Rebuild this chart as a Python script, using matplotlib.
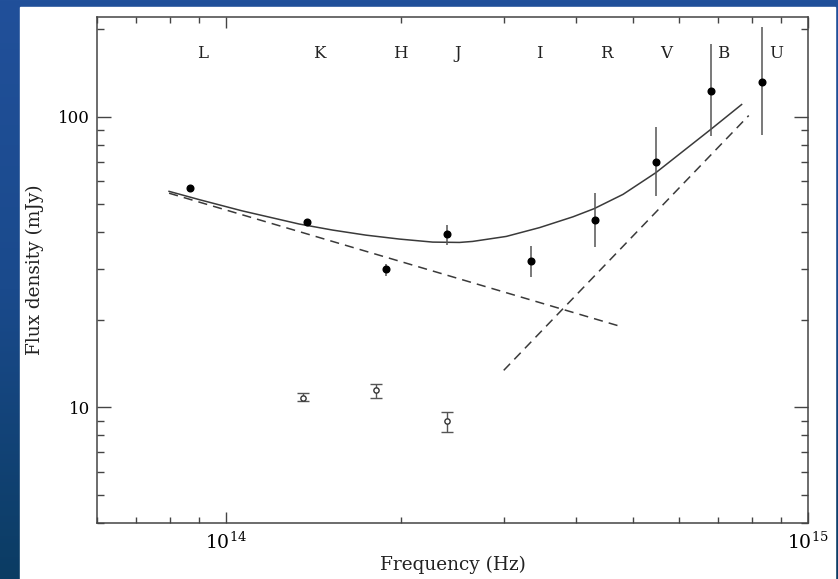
import numpy as np
import matplotlib
matplotlib.use('Agg')
import matplotlib.pyplot as plt
from matplotlib.patches import Rectangle
from matplotlib.ticker import LogLocator, FixedLocator, FixedFormatter, NullFormatter

# photometric bands (filled points), flux in mJy
band_freq = [8.67e13, 1.38e14, 1.88e14, 2.40e14, 3.34e14, 4.30e14, 5.47e14, 6.81e14, 8.34e14]
band_flux = [56.6, 43.3, 29.8, 39.3, 31.8, 44.0, 70.0, 122.8, 131.9]
band_low = [56.6, 42.6, 28.3, 36.3, 28.0, 35.7, 53.1, 85.4, 86.1]
band_high = [56.6, 44.0, 31.0, 42.2, 36.0, 54.4, 92.4, 178.0, 203.6]

# second set (open points)
open_freq = [1.357e14, 1.81e14, 2.40e14]
open_flux = [10.74, 11.44, 8.95]
open_low = [10.49, 10.8, 8.2]
open_high = [11.17, 12.0, 9.61]

# total model curve
model_freq = [7.98e13, 8.99e13, 1.065e14, 1.186e14, 1.335e14, 1.524e14, 1.739e14, 1.985e14,
              2.265e14, 2.518e14, 2.653e14, 3.030e14, 3.457e14, 3.945e14, 4.288e14, 4.81e14,
              5.476e14, 6.10e14, 6.80e14, 7.69e14]
model_flux = [55.3, 51.8, 47.4, 45.1, 42.7, 40.7, 39.1, 37.9,
              37.0, 36.9, 37.2, 38.7, 41.5, 45.2, 48.2, 54.0,
              64.1, 76.0, 90.2, 110.0]

# the two power-law components (straight in log-log)
comp1_freq = [7.98e13, 4.71e14]
comp1_flux = [54.5, 19.1]
comp2_freq = [3.0e14, 7.91e14]
comp2_flux = [13.4, 100.8]

band_names = ['L', 'K', 'H', 'J', 'I', 'R', 'V', 'B', 'U']
band_label_freq = [9.1e13, 1.445e14, 1.99e14, 2.50e14, 3.46e14, 4.51e14, 5.70e14, 7.14e14, 8.81e14]

plt.rcParams['font.family'] = ['DejaVu Serif']
plt.rcParams['mathtext.fontset'] = 'dejavuserif'

fig = plt.figure(figsize=(8.38, 5.79), dpi=100)

# blue slide background with a white panel
bg = fig.add_axes([0, 0, 1, 1], zorder=-10)
grad = np.linspace(0, 1, 256).reshape(-1, 1)
cmap = matplotlib.colors.LinearSegmentedColormap.from_list('slide', ['#21509a', '#1a4a8c', '#0b3c63'])
bg.imshow(grad, aspect='auto', cmap=cmap, extent=[0, 1, 0, 1])
bg.add_patch(Rectangle((20 / 838, 0), (835 - 20) / 838, 1 - 7 / 579, color='white', zorder=2))
bg.set_xlim(0, 1)
bg.set_ylim(0, 1)
bg.axis('off')

ax = fig.add_axes([97 / 838, 1 - 523 / 579, (808 - 97) / 838, (523 - 17) / 579])
ax.set_xscale('log')
ax.set_yscale('log')
ax.set_xlim(6e13, 1e15)
ax.set_ylim(4, 220)

line_col = '#3a3a3a'
ax.plot(model_freq, model_flux, color=line_col, lw=1.1)
ax.plot(comp1_freq, comp1_flux, color=line_col, lw=1.1, dashes=(6, 4))
ax.plot(comp2_freq, comp2_flux, color=line_col, lw=1.1, dashes=(6, 4))

yerr = [np.array(band_flux) - np.array(band_low), np.array(band_high) - np.array(band_flux)]
ax.errorbar(band_freq, band_flux, yerr=yerr, fmt='o', color='black', ecolor='#555555',
            ms=4.8, elinewidth=1.1, capsize=0)

yerr2 = [np.array(open_flux) - np.array(open_low), np.array(open_high) - np.array(open_flux)]
ax.errorbar(open_freq, open_flux, yerr=yerr2, fmt='o', mfc='white', mec='#333333',
            ecolor='#555555', ms=3.8, mew=1, elinewidth=1, capsize=4, capthick=1)

for name, f in zip(band_names, band_label_freq):
    ax.text(f, 0.927, name, transform=ax.get_xaxis_transform(), ha='center', va='center',
            fontsize=12, color='#222222')

# ticks
ax.yaxis.set_major_locator(FixedLocator([10, 100]))
ax.yaxis.set_major_formatter(FixedFormatter(['10', '100']))
ax.yaxis.set_minor_locator(LogLocator(base=10, subs=np.arange(2, 10)))
ax.yaxis.set_minor_formatter(NullFormatter())
ax.xaxis.set_major_locator(FixedLocator([1e14, 1e15]))
ax.xaxis.set_minor_locator(LogLocator(base=10, subs=np.arange(2, 10)))
ax.xaxis.set_minor_formatter(NullFormatter())
ax.tick_params(which='both', direction='in', top=True, right=True, color='#444444', width=1)
ax.tick_params(axis='y', which='major', length=10, labelsize=12, pad=5)
ax.tick_params(axis='y', which='minor', length=5)
ax.tick_params(axis='x', which='major', length=8, labelsize=13.5, pad=6)
ax.tick_params(axis='x', which='minor', length=4)
for s in ax.spines.values():
    s.set_color('#444444')
    s.set_linewidth(1.1)

ax.set_xlabel('Frequency (Hz)', fontsize=13.3, color='#222222', labelpad=2)
ax.set_ylabel('Flux density (mJy)', fontsize=13.3, color='#222222', labelpad=10)

fig.savefig('out.png', dpi=100)
